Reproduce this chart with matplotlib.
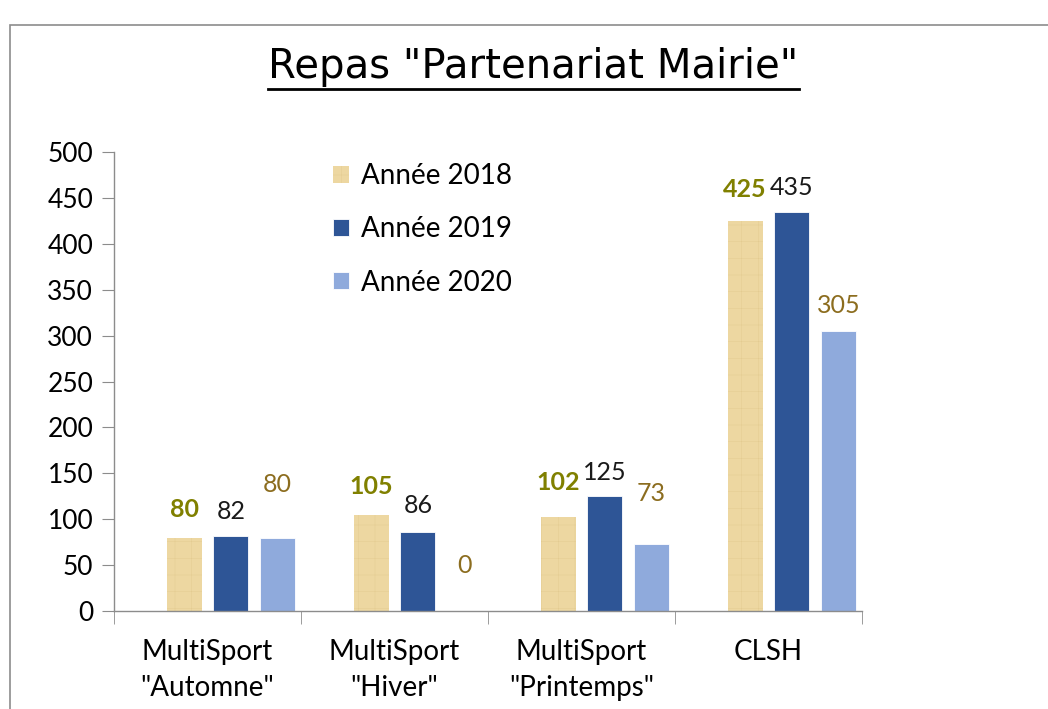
import numpy as np
import matplotlib
matplotlib.use("Agg")
import matplotlib.pyplot as plt
from matplotlib.patches import Rectangle
from matplotlib.lines import Line2D

plt.rcParams['font.family'] = ['Lato', 'DejaVu Sans']
plt.rcParams['hatch.linewidth'] = 0.3

categories = ['MultiSport\n"Automne"', 'MultiSport\n"Hiver"', 'MultiSport\n"Printemps"', 'CLSH']
series_names = ['Année 2018', 'Année 2019', 'Année 2020']
values_2018 = [80, 105, 102, 425]
values_2019 = [82, 86, 125, 435]
values_2020 = [80, 0, 73, 305]

colors = ['#EDD7A1', '#2E5596', '#8FAADC']
label_colors = ['#808000', '#1A1A1A', '#8C6D1F']
label_weights = ['bold', 'normal', 'normal']
# label distance above bar top, in pixels (hand placed in the original)
label_gap = [[28, 28, 35, 31],
             [24, 27, 24, 24],
             [53, 46, 51, 26]]

fig = plt.figure(figsize=(10.48, 7.09), dpi=100)
ax = fig.add_axes([0.1088, 0.1382, 0.7137, 0.6474])

# chart area border (only top/left visible)
fig.patches.append(Rectangle((10 / 1048, -0.5), 2, 0.5 + 1 - 25 / 709,
                             transform=fig.transFigure, fill=False,
                             edgecolor='#8C8C8C', linewidth=1.2))

x = np.arange(len(categories))
pitch = 0.25
width = 0.188
offsets = [-0.5 * pitch, 0.5 * pitch, 1.5 * pitch]
all_values = [values_2018, values_2019, values_2020]

for i, vals in enumerate(all_values):
    if i == 0:
        bars = ax.bar(x + offsets[i], vals, width, color=colors[i], label=series_names[i],
                      edgecolor='#E2C98E', linewidth=0, hatch='+')
    else:
        bars = ax.bar(x + offsets[i], vals, width, color=colors[i], label=series_names[i],
                      edgecolor='white', linewidth=0.6)
    for j, (b, v) in enumerate(zip(bars, vals)):
        ax.annotate(str(v), (b.get_x() + b.get_width() / 2, v),
                    xytext=(0, label_gap[i][j]), textcoords='offset pixels',
                    ha='center', va='center', fontsize=18,
                    color=label_colors[i], fontweight=label_weights[i])

ax.set_xlim(-0.5, len(categories) - 0.5)
ax.set_ylim(0, 500)
ax.set_yticks(np.arange(0, 501, 50))
ax.tick_params(axis='y', labelsize=19, length=9, color='#8C8C8C', pad=6)

ax.set_xticks(x)
ax.set_xticklabels(categories, fontsize=20, linespacing=1.5)
ax.tick_params(axis='x', length=0, pad=20)
ax.set_xticks(np.arange(-0.5, len(categories), 1), minor=True)
ax.tick_params(axis='x', which='minor', length=9, color='#8C8C8C')

for s in ['top', 'right']:
    ax.spines[s].set_visible(False)
for s in ['left', 'bottom']:
    ax.spines[s].set_color('#8C8C8C')
    ax.spines[s].set_linewidth(1.0)

leg = ax.legend(loc='upper left', bbox_to_anchor=(0.26, 1.03), frameon=False,
                fontsize=20, handlelength=0.55, handleheight=0.55,
                handletextpad=0.45, labelspacing=0.98)

title = fig.text(0.509, 0.905, 'Repas "Partenariat Mairie"', ha='center', va='center',
                 fontsize=29, family=['DejaVu Sans'])

fig.canvas.draw()
bb = title.get_window_extent().transformed(fig.transFigure.inverted())
fig.add_artist(Line2D([bb.x0, bb.x1], [bb.y0 - 0.002, bb.y0 - 0.002],
                      transform=fig.transFigure, color='black', linewidth=2))

fig.savefig('out.png', dpi=100)
